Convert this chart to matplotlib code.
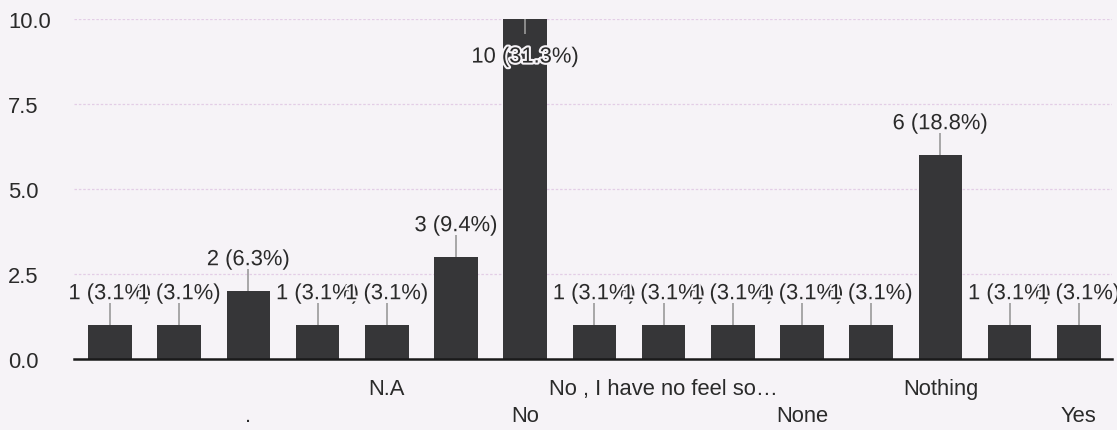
import matplotlib
matplotlib.use("Agg")
import matplotlib.pyplot as plt
import matplotlib.patheffects as pe
from decimal import Decimal, ROUND_HALF_UP

plt.rcParams['font.family'] = ['Liberation Sans', 'DejaVu Sans']

# Data
counts = [1, 1, 2, 1, 1, 3, 10, 1, 1, 1, 1, 1, 6, 1, 1]
tick_labels = ['', '', '.', '', 'N.A', '', 'No', '', 'No , I have no feel so…',
               '', 'None', '', 'Nothing', '', 'Yes']
label_row = [1, 2, 2, 1, 1, 2, 2, 1, 1, 2, 2, 1, 1, 2, 2]
yticks = [0.0, 2.5, 5.0, 7.5, 10.0]

total = sum(counts)
bg = '#f6f3f7'
bar_color = '#363638'
text_color = '#2a2a2a'
fs = 15.8


def pct(v):
    p = Decimal(v * 100) / Decimal(total)
    return p.quantize(Decimal('0.1'), rounding=ROUND_HALF_UP)


fig = plt.figure(figsize=(11.17, 4.31), dpi=100, facecolor=bg)
ax = fig.add_axes([74/1117, 1-360/431, (1112-74)/1117, (360-20)/431], facecolor=bg)

x = list(range(len(counts)))
ax.bar(x, counts, width=0.63, color=bar_color, zorder=3)

ax.set_xlim(-0.52, 14.48)
ax.set_ylim(0, 10)
ax.set_yticks(yticks)
ax.set_yticklabels([f"{v:.1f}" for v in yticks], fontsize=fs, color=text_color, ha='left')
ax.tick_params(axis='y', length=0, pad=47.5)
ax.grid(axis='y', color='#e3cde6', linestyle=(0, (2, 1.5)), linewidth=0.9, zorder=0)

labels = [("\n" + t if r == 2 else t) for t, r in zip(tick_labels, label_row)]
ax.set_xticks(x)
ax.set_xticklabels(labels, fontsize=fs, color=text_color, linespacing=1.32, va='top')
ax.tick_params(axis='x', length=0, pad=14)

for s in ['top', 'right', 'left']:
    ax.spines[s].set_visible(False)
ax.spines['bottom'].set_color('#1a1a1a')
ax.spines['bottom'].set_linewidth(1.8)
ax.spines['bottom'].set_zorder(4)

halo = [pe.withStroke(linewidth=3, foreground=bg)]
for xi, v in zip(x, counts):
    txt = f"{v} ({pct(v)}%)"
    if v >= 9.5:
        ax.vlines(xi, v - 0.45, v, color='#9a9a9a', linewidth=1.2, zorder=4)
        ax.text(xi, v - 1.12, txt, ha='center', va='center', fontsize=fs,
                color=text_color, path_effects=halo, zorder=5)
    else:
        ax.vlines(xi, v, v + 0.64, color='#9a9a9a', linewidth=1.2, zorder=4)
        ax.text(xi, v + 0.92, txt, ha='center', va='center', fontsize=fs,
                color=text_color, path_effects=halo, zorder=5)

fig.savefig("out.png", dpi=100, facecolor=bg)
